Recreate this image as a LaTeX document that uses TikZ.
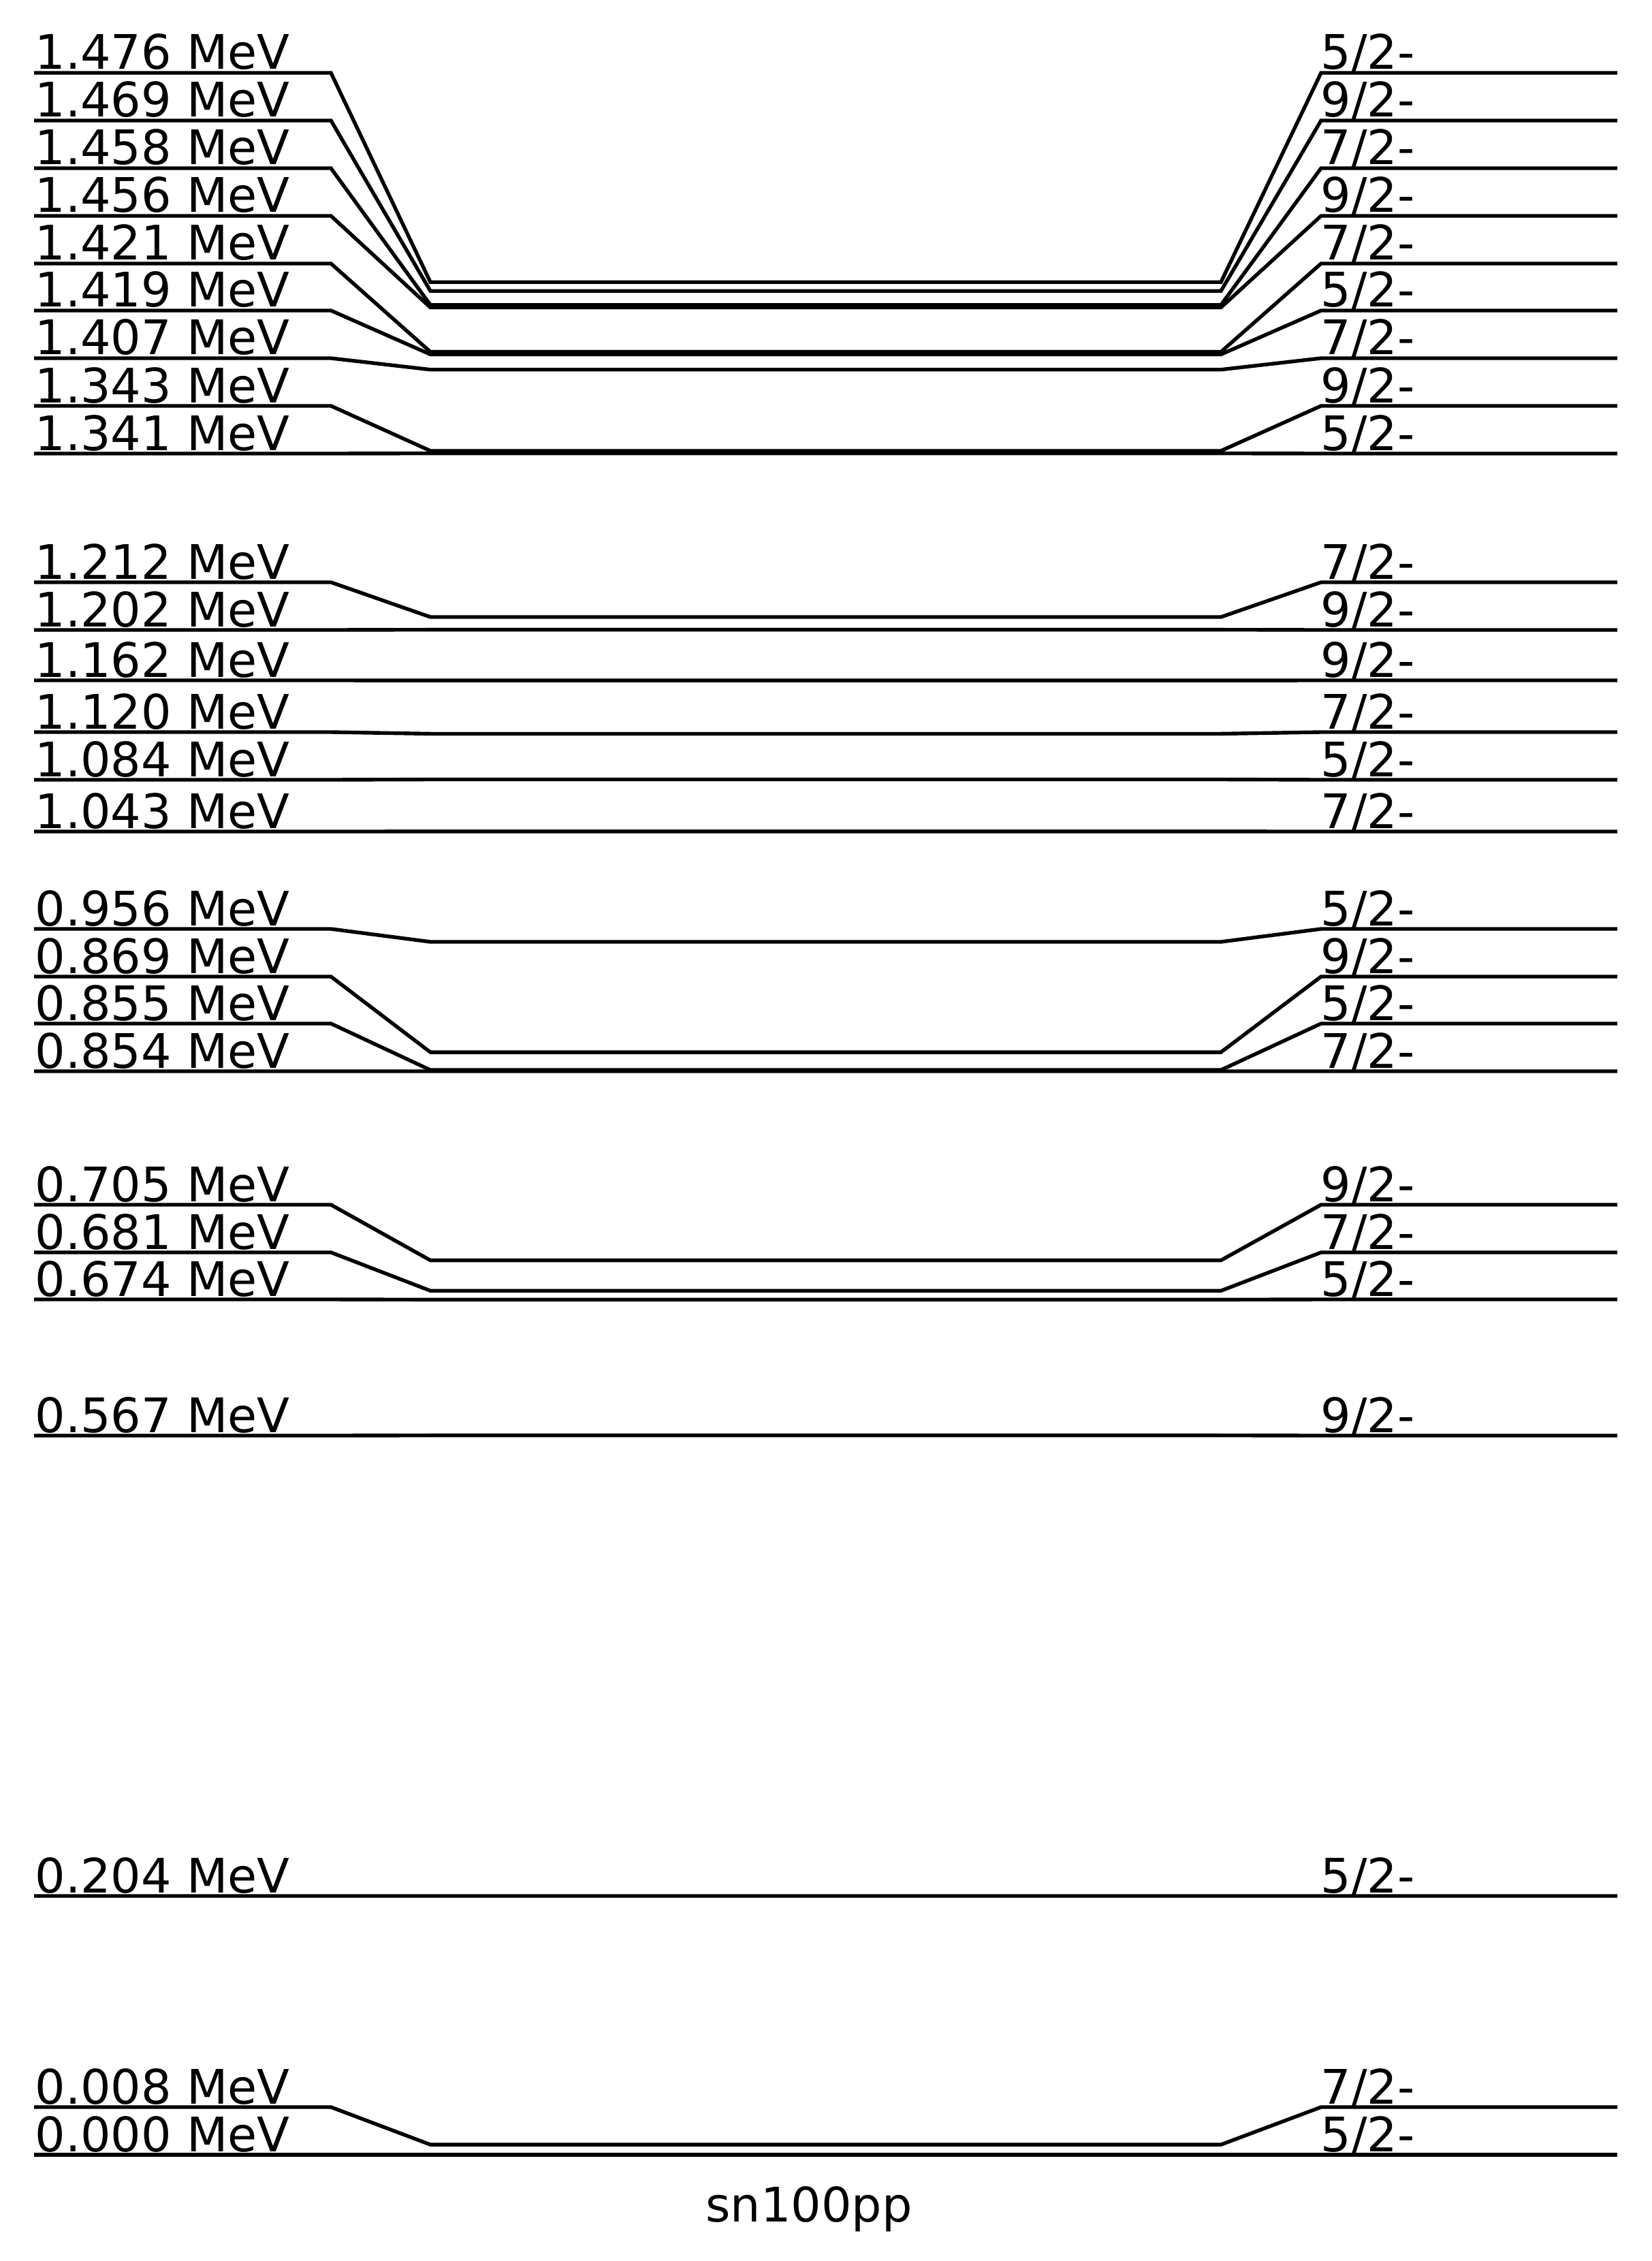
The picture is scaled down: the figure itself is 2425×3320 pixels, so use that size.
\documentclass[tikz,border=0pt]{standalone}
\usepackage{fontspec}
\setmainfont{DejaVu Sans}
\begin{document}
\begin{tikzpicture}[x=0.1mm, y=-0.1mm, line width=0.54mm,
    lab/.style={anchor=base west, inner sep=0pt, font=\fontsize{19.9}{24}\selectfont}]
    \useasboundingbox (0,0) rectangle (2425,3320);

    % energy / 2J / height of the label line
    \foreach \e/\j/\yl [count=\i] in {1.476/5/107, 1.469/9/177, 1.458/7/247, 1.456/9/317,
        1.421/7/387, 1.419/5/456, 1.407/7/526, 1.343/9/596, 1.341/5/666,
        1.212/7/855, 1.202/9/925, 1.162/9/999, 1.120/7/1075, 1.084/5/1145, 1.043/7/1221,
        0.956/5/1364, 0.869/9/1434, 0.855/5/1503, 0.854/7/1573,
        0.705/9/1769, 0.681/7/1839, 0.674/5/1908,
        0.567/9/2108, 0.204/5/2784, 0.008/7/3094, 0.000/5/3164} {
        \pgfmathsetmacro\ym{3164-1863*\e}
        \draw (50,\yl) -- (486,\yl) -- (632,\ym) -- (1793,\ym) -- (1940,\yl) -- (2375,\yl);
        \node[lab] (en\i) at (49,\yl-5) {\e{} MeV};
        \node[lab] (sp\i) at (1937,\yl-5) {\j/2-};
    }

    \node[anchor=base, inner sep=0pt, font=\fontsize{19.9}{24}\selectfont] (name) at (1188,3262) {sn100pp};
\end{tikzpicture}
\end{document}
